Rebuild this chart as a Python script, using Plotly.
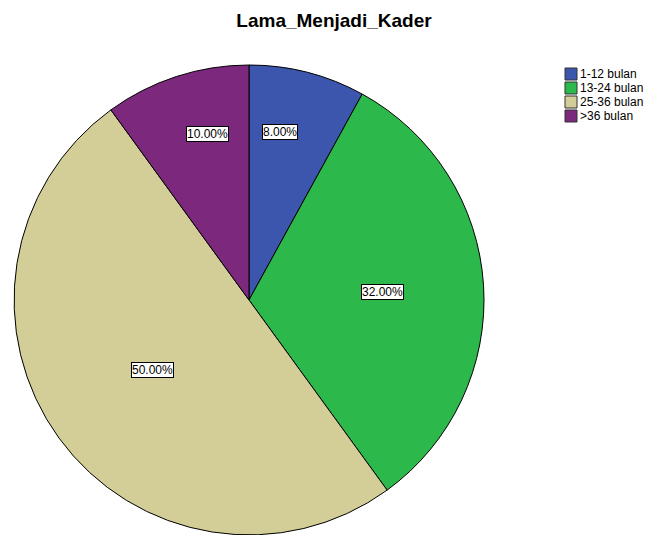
import math
import plotly.graph_objects as go

categories = ["1-12 bulan", "13-24 bulan", "25-36 bulan", ">36 bulan"]
values = [8.0, 32.0, 50.0, 10.0]
label_texts = ["8.00%", "32.00%", "50.00%", "10.00%"]

colors = ["#3D56AD", "#2DB84B", "#D3CE98", "#7B287D"]
# style: label box placement (fraction of radius, angular shift in degrees)
label_radius = [0.725, 0.57, 0.51, 0.73]
label_shift = [-4.0, 0.0, 0.0, 4.0]

W, H = 649, 535
cx, cy, R = 249, 300, 235
FONT = "Liberation Sans, Arial"

fig = go.Figure(go.Pie(
    labels=categories,
    values=values,
    sort=False,
    direction="clockwise",
    rotation=0,
    textinfo="none",
    hoverinfo="label+percent",
    showlegend=False,
    marker=dict(colors=colors, line=dict(color="#000000", width=1)),
    domain=dict(x=[(cx - R) / W, (cx + R) / W], y=[(H - cy - R) / H, (H - cy + R) / H]),
))

total = sum(values)
cum = 0.0
annotations = []
for v, t, rf, sh in zip(values, label_texts, label_radius, label_shift):
    mid = (cum + v / 2) / total * 2 * math.pi + math.radians(sh)
    cum += v
    xp = cx + rf * R * math.sin(mid)
    yp = cy - rf * R * math.cos(mid)
    annotations.append(dict(
        x=xp / W, y=1 - yp / H, xref="paper", yref="paper",
        text=t, showarrow=False,
        font=dict(family=FONT, size=12, color="#000000"),
        bgcolor="#FFFFFF", bordercolor="#000000", borderwidth=1, borderpad=0,
        xanchor="center", yanchor="middle",
    ))

# legend drawn as key squares + text, one row per category
shapes = []
leg_x, leg_y0, leg_dy, sq = 565, 74, 14, 12
for i, (cat, col) in enumerate(zip(categories, colors)):
    yc = leg_y0 + i * leg_dy
    shapes.append(dict(
        type="rect", xref="paper", yref="paper",
        x0=leg_x / W, x1=(leg_x + sq) / W,
        y0=1 - (yc + sq / 2) / H, y1=1 - (yc - sq / 2) / H,
        fillcolor=col, line=dict(color="#333333", width=1),
    ))
    annotations.append(dict(
        x=(leg_x + sq + 1) / W, y=1 - yc / H, xref="paper", yref="paper",
        text=cat, showarrow=False, xanchor="left", yanchor="middle",
        font=dict(family=FONT, size=12, color="#000000"),
    ))

fig.update_layout(
    width=W, height=H,
    margin=dict(l=0, r=0, t=0, b=0, autoexpand=False),
    paper_bgcolor="#FFFFFF",
    plot_bgcolor="#FFFFFF",
    title=dict(
        text="<b>Lama_Menjadi_Kader</b>",
        x=334 / W, xanchor="center", y=1 - 20 / H, yanchor="middle",
        font=dict(family=FONT, size=19, color="#000000"),
    ),
    showlegend=False,
    annotations=annotations,
    shapes=shapes,
)

fig.write_html("out.html")
